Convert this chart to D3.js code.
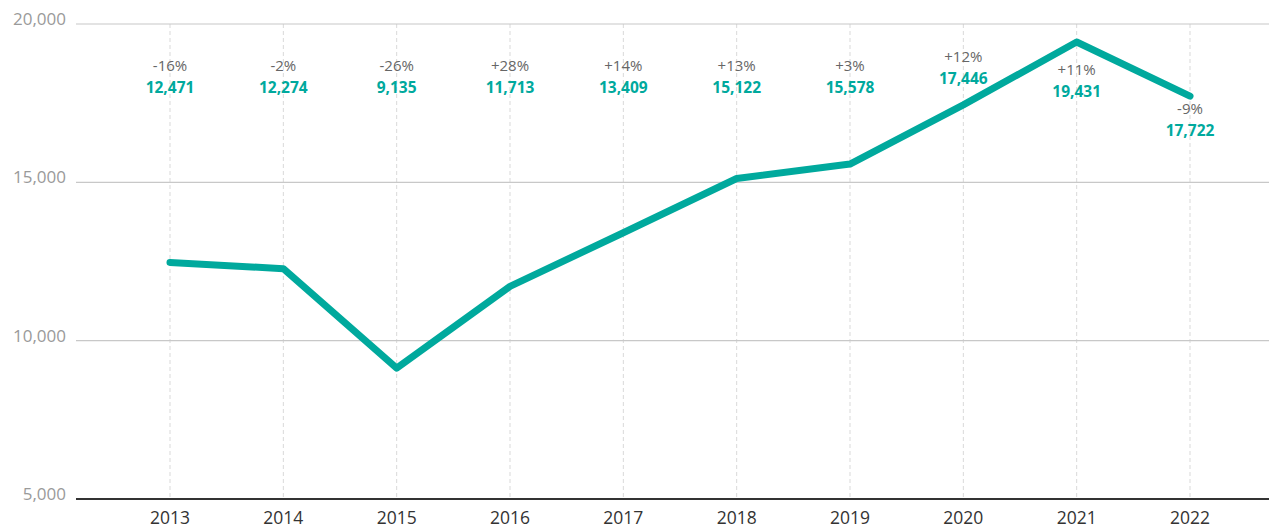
<!DOCTYPE html>
<html>
<head>
<meta charset="utf-8">
<script src="https://cdn.jsdelivr.net/npm/d3@7"></script>
<style>
  html, body { margin: 0; padding: 0; background: #fff; }
  svg { display: block; font-family: "Open Sans", "Noto Sans", sans-serif; }
</style>
</head>
<body>
<svg id="chart" width="1269" height="528"></svg>
<script>
// Annual totals, with change versus the previous year
const years = ["2013", "2014", "2015", "2016", "2017", "2018", "2019", "2020", "2021", "2022"];
const values = [12471, 12274, 9135, 11713, 13409, 15122, 15578, 17446, 19431, 17722];
const changes = ["-16%", "-2%", "-26%", "+28%", "+14%", "+13%", "+3%", "+12%", "+11%", "-9%"];
const yTicks = [5000, 10000, 15000, 20000];

const TEAL = "#00a99d";
const svg = d3.select("#chart");

const x = d3.scalePoint().domain(years).range([170, 1190]);
const y = d3.scaleLinear().domain([5000, 20000]).range([499, 24]);
const gridLeft = 76, gridRight = 1269;

// vertical dashed guides at each year
svg.append("g")
  .selectAll("line")
  .data(years)
  .join("line")
  .attr("x1", d => x(d)).attr("x2", d => x(d))
  .attr("y1", y(20000)).attr("y2", y(5000))
  .attr("stroke", "#d9d9d9")
  .attr("stroke-width", 1)
  .attr("stroke-dasharray", "4,3");

// horizontal gridlines and value axis labels
const yAxis = svg.append("g");
yAxis.selectAll("line")
  .data(yTicks)
  .join("line")
  .attr("x1", gridLeft).attr("x2", gridRight)
  .attr("y1", d => y(d)).attr("y2", d => y(d))
  .attr("stroke", d => d === 5000 ? "#333" : "#c8c8c8")
  .attr("stroke-width", d => d === 5000 ? 2 : 1.2);
yAxis.selectAll("text")
  .data(yTicks)
  .join("text")
  .attr("x", 66)
  .attr("y", d => y(d) + 1)
  .attr("text-anchor", "end")
  .attr("fill", "#9a9a9a")
  .attr("font-size", 17)
  .text(d => d3.format(",")(d));

// year labels
svg.append("g")
  .selectAll("text")
  .data(years)
  .join("text")
  .attr("x", d => x(d))
  .attr("y", 524)
  .attr("text-anchor", "middle")
  .attr("fill", "#333")
  .attr("font-size", 17.5)
  .text(d => d);

// main line
const pts = years.map((yr, i) => ({ year: yr, value: values[i], change: changes[i] }));
svg.append("path")
  .datum(pts)
  .attr("fill", "none")
  .attr("stroke", TEAL)
  .attr("stroke-width", 7)
  .attr("stroke-linejoin", "round")
  .attr("stroke-linecap", "round")
  .attr("d", d3.line().x(d => x(d.year)).y(d => y(d.value)));

// labels: top row when there is room above the line, otherwise tucked under the point
const topBaseline = 93;
function valueBaseline(d) {
  const py = y(d.value);
  if (py < 110 && d.year >= "2021") return py + (d.year === "2021" ? 55 : 40);
  return Math.min(topBaseline, py - 21);
}
const labels = svg.append("g").selectAll("g")
  .data(pts)
  .join("g")
  .attr("transform", d => `translate(${x(d.year)},${valueBaseline(d)})`);
labels.append("text")
  .attr("y", -22)
  .attr("text-anchor", "middle")
  .attr("fill", "#666")
  .attr("font-size", 15)
  .text(d => d.change);
labels.append("text")
  .attr("text-anchor", "middle")
  .attr("fill", TEAL)
  .attr("font-size", 15.5)
  .attr("font-weight", "bold")
  .text(d => d3.format(",")(d.value));
</script>
</body>
</html>
